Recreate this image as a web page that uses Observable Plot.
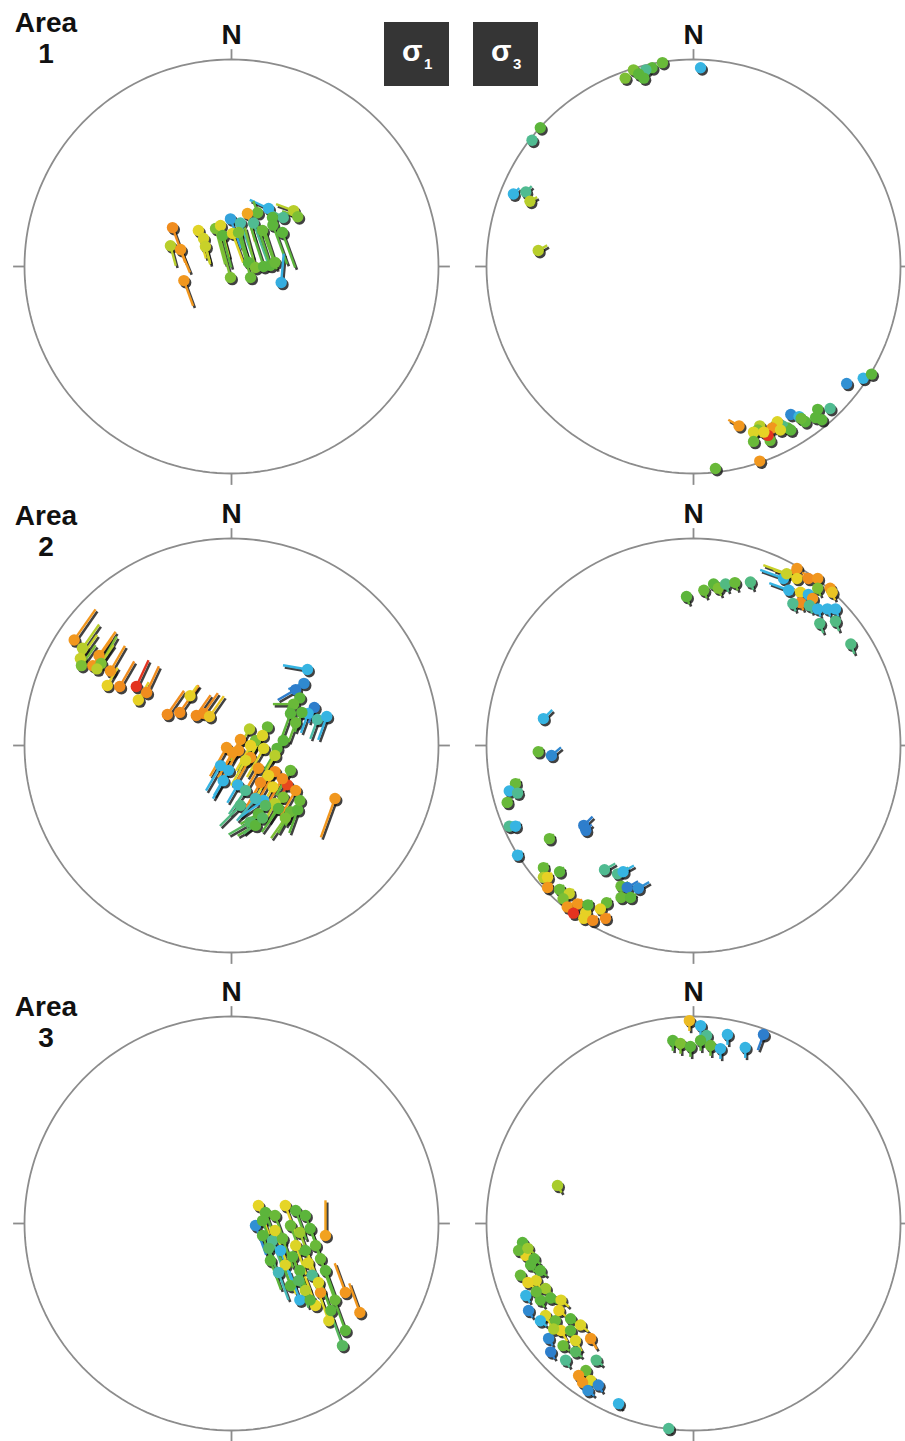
<!DOCTYPE html>
<html><head><meta charset="utf-8">
<script src="https://cdn.jsdelivr.net/npm/d3@7"></script>
<script src="https://cdn.jsdelivr.net/npm/@observablehq/plot@0.6"></script>
<style>
body{margin:0;background:#fff;font-family:"Liberation Sans",Arial,Helvetica,sans-serif;}
#fig{position:relative;width:905px;height:1441px;overflow:hidden;background:#fff;}
.panel{position:absolute;width:450px;}
.panel svg{max-width:none !important;}
.area{position:absolute;left:6px;width:80px;text-align:center;font-weight:bold;font-size:28px;line-height:31px;color:#111;}
.sig{position:absolute;top:22px;width:65px;height:64px;background:#353535;color:#fff;font-weight:bold;}
.sig .s{position:absolute;left:18px;top:14px;font-size:30px;line-height:30px;}
.sig .n{position:absolute;left:40px;top:34px;font-size:15px;line-height:15px;}
</style></head><body>
<svg width="0" height="0" style="position:absolute"><defs>
<filter id="pinshadow" x="-20%" y="-20%" width="140%" height="140%"><feGaussianBlur stdDeviation="1.1"/></filter>
</defs></svg>
<div id="fig"></div>
<script>
// ---- labels ----
const areaLabels = ["1", "2", "3"];
const sigmaLabels = ["1", "3"];
const northLabel = "N";

// colour ramp (value 0 = blue ... 1 = red)
const rampStops = [0, 0.2, 0.35, 0.5, 0.62, 0.74, 0.86, 0.93, 1];
const rampColors = ["#2b6cc4", "#36b4e2", "#4dbca6", "#5cb53b", "#a9cc2c", "#e6d526", "#f2a21f", "#ef7b1d", "#e3331f"];

// pins: [x, y, tail azimuth (deg), tail length, colour value]; x,y in % of net radius
const a1s1 = [
 [-28.5,18.8,160,18,0.9],[-29.5,10,165,10,0.65],[-24.6,8.2,158,12,0.88],[-23,-6.8,160,13,0.88],
 [-16,17.4,165,14,0.73],[-13.5,13.5,165,12,0.7],[-12.6,9.7,165,9,0.68],
 [17.9,28,295,10,0.2],[30,27,290,9,0.65],[32,24,290,8,0.55],[25,23.7,300,6,0.38],[19.8,23.7,330,6,0.5],
 [12.6,26,340,6,0.52],[7.7,25.6,165,14,0.85],[-0.5,23,160,15,0.15],[4.3,21,160,18,0.35],[10.6,21,160,20,0.38],
 [20,20,160,20,0.5],[-7.7,18.4,165,18,0.55],[-5.3,19.8,165,16,0.72],[-4.3,15,165,16,0.5],[0.5,16,160,15,0.72],
 [3.4,16.4,160,18,0.55],[15,17.4,160,20,0.52],[24.6,16.4,160,18,0.5],
 [-0.5,-5.3,345,22,0.55],[9.2,-5.3,345,22,0.52],[8.2,1.9,345,20,0.5],[11.6,-0.5,345,20,0.55],[15.5,0,342,20,0.5],
 [18.8,0.5,342,20,0.5],[21,2,342,18,0.52],[24,-7.7,5,14,0.18]
];
const a1s3 = [
 [-15,98.5,45,2,0.52],[-20,96,45,2,0.5],[-23,95,45,2,0.38],[-29,95,45,2,0.55],[-26.5,93,45,2,0.5],[-24,91,45,2,0.5],
 [-33,91,45,2,0.55],[3.4,96,45,2,0.2],[-74,67,45,2,0.5],[-78,61,45,2,0.38],[-87,35,45,4,0.2],[-81,36,45,4,0.38],
 [-79,31.5,60,4,0.65],[-75,7.7,60,5,0.65],
 [74,-56.5,45,2,0.1],[82,-54,45,2,0.2],[86,-52,45,2,0.5],[66,-68.6,45,2,0.38],[60,-69,45,2,0.5],[59,-73,45,2,0.5],
 [62,-74,45,2,0.5],[47,-71.5,45,2,0.08],[51,-72.5,45,2,0.22],[54,-75,45,2,0.5],[52,-73.4,45,2,0.52],[45.5,-78,45,2,0.5],
 [43,-77,45,2,0.4],[39.6,-77,45,2,0.52],[40.5,-75,45,2,0.72],[38,-78,45,2,0.88],[32,-77,45,2,0.65],[31,-79,45,2,0.55],
 [29,-80,45,2,0.72],[22,-77,300,6,0.88],[29,-84.5,45,2,0.52],[37,-84,45,2,0.52],[36,-81.6,45,2,1],[34,-80,45,2,0.75],
 [32,-94,45,2,0.88],[10.6,-97.6,45,2,0.52],[47,-79,45,2,0.5],[42,-79,45,2,0.72]
];
const a2s1 = [
 [-76,51,35,18,0.88],[-72,47,35,14,0.65],[-73,42,35,14,0.68],[-72.5,38.6,35,12,0.55],[-67,38.6,35,16,0.88],
 [-64,43.5,35,14,0.88],[-63,39.6,30,15,0.55],[-65,37,35,14,0.65],[-58.5,36,30,14,0.88],[-60,29,30,10,0.75],
 [-54,28.5,30,14,0.9],[-46,28.5,25,14,1],[-41,25.6,25,14,0.9],[-45,22,30,10,0.75],[-31,15,35,14,0.9],
 [-25,16,35,16,0.9],[-20,24,35,6,0.75],[-17,14.5,35,12,0.9],[-13.5,15.5,35,12,0.9],[-10.6,14,35,12,0.78],
 [36.7,36.7,280,12,0.2],[35,30,250,8,0.08],[31,27,240,10,0.05],[33,23,230,8,0.5],[30,20,270,10,0.52],
 [40,18.4,200,8,0.05],[37,15.5,200,10,0.2],[41.5,12.6,200,10,0.35],[46,14,200,12,0.2],[34,16,200,10,0.5],
 [28.5,15.5,200,12,0.5],[31,11,200,10,0.52],[25,2.4,210,12,0.5],[17.4,9,210,18,0.52],[8.7,8,210,18,0.65],
 [15.5,-1.4,210,16,0.72],[22,-1.4,210,12,0.5],[11.6,2.4,210,16,0.55],[-2.4,-1,210,16,0.88],[4.3,2.9,210,16,0.88],
 [3.4,-2.4,210,14,0.88],[-5.3,-9.7,210,14,0.2],[-4,-17,210,10,0.2],[3,-19,210,10,0.2],[9.2,-5.8,210,16,0.88],
 [14,-17.9,210,14,0.9],[21,-12.6,210,14,0.9],[20,-20,210,12,0.75],[27,-19,210,14,0.98],[15.5,-26.6,235,14,0.2],
 [25,-25,210,14,0.55],[28.5,-32,210,12,0.52],[32,-31,200,12,0.5],[9,-37,240,12,0.45],[11.6,-38.6,240,10,0.5],
 [13,-33,240,10,0.5],[50,-25.6,200,20,0.88],[21,-28,210,10,0.65],
 [0.5,-3.4,210,14,0.88],[6.8,-7.2,210,14,0.72],[13,-11,210,14,0.88],[17.9,-14.5,210,14,0.75],[24.6,-16,210,14,0.9],
 [6.8,-21.7,215,14,0.38],[11.6,-25.6,220,14,0.3],[16.4,-29,220,14,0.45],[22.7,-30.4,215,14,0.5],[4.3,-29,225,14,0.4],
 [15,-35,230,12,0.45],[26,-35,215,12,0.55],[33,-26.6,210,14,0.52],[-1.4,-12,210,14,0.2],[9.2,0,210,14,0.75],
 [15,4.8,210,14,0.72],[21,-4.8,210,14,0.65],[28.5,-12,210,14,0.52],[31,-21.7,210,14,0.88]
];
const a2s3 = [
 [-3.4,72,160,4,0.5],[5,75,160,4,0.52],[9.7,78,160,4,0.5],[12,76,160,4,0.55],[15.5,78,160,4,0.4],[20,78.7,160,4,0.52],
 [27.5,79,160,4,0.4],
 [50,85.5,250,8,0.88],[50,80.7,290,12,0.75],[43.5,80.7,290,12,0.2],[45,83,290,12,0.68],[55.5,80.7,290,10,0.9],
 [60,80.7,290,8,0.88],[46,75,290,10,0.2],[51.7,74,290,8,0.75],[55.5,73,160,4,0.2],[60,76,160,4,0.55],
 [66,76,160,4,0.88],[67,74,160,4,0.78],[57.5,71,160,4,0.88],[51.7,69,160,4,0.9],[48,68.6,160,4,0.38],
 [56,67.6,160,4,0.38],[60,66,160,4,0.2],[64.7,66,160,4,0.2],[68.6,66,160,4,0.2],[61,59,160,5,0.4],
 [68.6,60,160,5,0.4],[76,49,160,5,0.4],
 [-72.5,13,45,6,0.2],[-75,-3,45,3,0.52],[-68.6,-4.8,50,6,0.08],[-86,-18.4,45,3,0.52],[-89,-22,45,3,0.2],
 [-85,-23,45,3,0.38],[-90,-27.5,45,3,0.52],[-89,-39,45,3,0.38],[-86,-39,45,3,0.2],[-53,-38.6,45,6,0.05],
 [-52,-41,45,4,0.05],[-69.6,-45,45,3,0.52],[-85,-53,45,3,0.2],[-72.5,-59,45,3,0.52],[-64.7,-61,45,3,0.5],
 [-72.5,-63.7,45,3,0.65],[-70.5,-63.7,45,3,0.75],[-70.5,-68.6,45,3,0.88],[-64.7,-69.6,45,3,0.52],[-60,-71.5,45,3,0.68],
 [-63,-74,45,3,0.55],[-61,-78,45,3,0.88],[-56,-76.5,45,3,0.88],[-58,-81,45,3,1],[-52,-80.7,45,3,0.75],
 [-53,-83.5,45,3,0.75],[-48.7,-84.5,45,3,0.9],[-42.5,-83.5,45,3,0.9],[-42,-76,45,3,0.52],[-45,-79,45,3,0.75],
 [-51,-77,45,3,0.5],[-43,-60,60,6,0.38],[-36.7,-62,60,6,0.38],[-34,-61,60,6,0.2],[-35,-68,60,4,0.52],
 [-32,-68.6,60,6,0.05],[-26.6,-69,60,6,0.1],[-35,-73.4,60,3,0.52],[-30.4,-73.4,60,3,0.5]
];
const a3s1 = [
 [13,8.7,160,15,0.74],[16.4,5.3,160,15,0.5],[21,3.9,160,15,0.52],[26,8.7,160,15,0.74],[31,6.3,160,15,0.5],
 [35.7,3.9,160,15,0.5],[11.6,-1,160,15,0.1],[15,-5.8,160,15,0.5],[19.8,-8.2,160,15,0.38],[24.6,-7.2,160,15,0.52],
 [31,-10.6,160,15,0.72],[35.7,-13,160,15,0.5],[40.6,-10.6,160,15,0.52],[18.8,-17.9,160,15,0.5],[26,-20,160,15,0.72],
 [33,-22.7,160,15,0.5],[39,-25,160,15,0.38],[28.5,-30,340,15,0.5],[35.7,-32.4,340,15,0.65],[43,-33.3,340,15,0.88],
 [45.4,-5.8,0,17,0.86],[40.6,-39.6,340,15,0.74],[50,-37,340,15,0.52],[55,-33.3,340,15,0.88],[47,-47,340,15,0.72],
 [62,-43,340,15,0.88],[53.6,-59,340,15,0.45],[55,-51.7,340,15,0.5],[33,-37,340,15,0.2],[23.7,-13,160,15,0.2],
 [15,1.4,160,15,0.5],[28.5,-1,160,15,0.52],[33,-4.3,160,15,0.6],[38,-2.4,160,15,0.5],[18,-12,160,15,0.45],
 [29.5,-16,160,15,0.5],[37,-19,160,15,0.72],[43,-17,160,15,0.52],[22.7,-23.7,160,14,0.3],[32.4,-27.5,160,14,0.45],
 [42,-28.5,340,14,0.72],[45.4,-22.7,160,14,0.5],[38,-37,340,14,0.5],[48,-42,340,14,0.5],[21,-3.4,160,15,0.72]
];
const a3s3 = [
 [-65.7,18.4,150,4,0.62],[-82.6,-9.2,150,4,0.5],[-81,-15.5,150,4,0.75],[-78.7,-20,150,4,0.5],[-83.6,-25,150,4,0.52],
 [-76,-27.5,150,4,0.72],[-81,-34.8,150,4,0.2],[-74,-37,150,4,0.5],[-79.7,-42,150,4,0.08],[-71.5,-44.4,150,6,0.72],
 [-66.7,-46.9,150,6,0.52],[-64,-51.7,150,6,0.75],[-59.4,-51.7,150,6,0.5],[-70,-55.5,150,4,0.08],[-57,-56.5,150,6,0.72],
 [-49.7,-55.5,150,6,0.88],[-61.8,-66,150,4,0.38],[-52,-71,150,4,0.52],[-49.7,-75.8,150,4,0.72],[-46,-78,150,4,0.08],
 [-53.6,-76.8,150,4,0.88],[-36.2,-87,150,3,0.2],[-12,-99,150,2,0.38],[-69,-62,150,4,0.05],
 [-84.5,-13,130,4,0.52],[-80,-12,130,4,0.6],[-77,-17,130,4,0.5],[-74,-22.7,130,4,0.5],[-80,-28.5,130,4,0.75],
 [-71.5,-31.4,130,4,0.6],[-76,-33,130,4,0.52],[-69,-36,130,4,0.5],[-65,-42,130,5,0.75],[-74,-47,130,4,0.2],
 [-59.4,-46,130,5,0.5],[-67.6,-51,130,4,0.62],[-54.6,-49,130,5,0.72],[-63,-59,130,4,0.52],[-57,-62,130,4,0.45],
 [-47,-66,130,4,0.4],[-55.5,-73.4,130,4,0.88],[-51,-80.7,130,4,0.1],[-64,-37,130,5,0.72],
 [-2,98,180,5,0.8],[3.4,95.6,180,5,0.2],[6.3,90.8,180,5,0.38],[16.4,91.3,180,5,0.2],[33.8,91.3,200,8,0.05],
 [-10,88.4,180,5,0.5],[-6.3,87,180,5,0.55],[-1.5,85.5,180,5,0.5],[8.2,86,180,5,0.52],[13,84.5,180,5,0.2],
 [25,85,180,5,0.2],[3.4,88.4,180,5,0.5]
];

const panels = [
  {row: 0, col: 0, data: a1s1}, {row: 0, col: 1, data: a1s3},
  {row: 1, col: 0, data: a2s1}, {row: 1, col: 1, data: a2s3},
  {row: 2, col: 0, data: a3s1}, {row: 2, col: 1, data: a3s3}
];

// ---- layout (pixels) ----
const R = 207;                 // net radius in px
const colX = [231, 693];       // net centres
const rowY = [266, 745, 1223];
const padX = 225, padTop = 247, padBot = 222;
const k = 100 / R;             // data units per pixel

const ramp = d3.scaleLinear().domain(rampStops).range(rampColors).clamp(true);
const rad = Math.PI / 180;
const circle = d3.range(0, 361, 2);
const cardinals = [0, 90, 180, 270];

const fig = document.getElementById("fig");

for (const p of panels) {
  const pins = p.data.map(([x, y, az, len, c]) => ({
    x, y, x2: x + len * Math.sin(az * rad), y2: y + len * Math.cos(az * rad), col: ramp(c)
  }));
  const plot = Plot.plot({
    width: 2 * padX, height: padTop + padBot,
    margin: 0, marginTop: 0, marginBottom: 0, marginLeft: 0, marginRight: 0,
    x: {domain: [-padX * k, padX * k], axis: null},
    y: {domain: [-padBot * k, padTop * k], axis: null},
    color: {type: "identity"},
    style: {background: "transparent", overflow: "visible", maxWidth: "none"},
    marks: [
      Plot.line(circle, {x: a => 100 * Math.sin(a * rad), y: a => 100 * Math.cos(a * rad), stroke: "#8c8c8c", strokeWidth: 1.8}),
      Plot.link(cardinals, {
        x1: a => 100 * Math.sin(a * rad), y1: a => 100 * Math.cos(a * rad),
        x2: a => (a === 0 ? 105 : 105.5) * Math.sin(a * rad), y2: a => (a === 0 ? 105 : 105.5) * Math.cos(a * rad),
        stroke: "#8c8c8c", strokeWidth: 1.8
      }),
      Plot.text([northLabel], {x: 0, y: 112, text: d => d, fontSize: 28, fontWeight: "bold", fill: "#111", fontFamily: "Liberation Sans, Arial, sans-serif"}),
      Plot.link(pins, {x1: "x", y1: "y", x2: "x2", y2: "y2", stroke: "#111", strokeOpacity: 0.8, strokeWidth: 2.6, dx: 1.8, dy: 2.2, ariaLabel: "shadow"}),
      Plot.dot(pins, {x: "x", y: "y", r: 5.7, fill: "#111", fillOpacity: 0.8, dx: 1.8, dy: 2.2, ariaLabel: "shadow"}),
      Plot.link(pins, {x1: "x", y1: "y", x2: "x2", y2: "y2", stroke: "col", strokeWidth: 2.4}),
      Plot.dot(pins, {x: "x", y: "y", r: 5.7, fill: "col"})
    ]
  });
  plot.querySelectorAll('g[aria-label="shadow"]').forEach(g => g.setAttribute("filter", "url(#pinshadow)"));
  plot.style.maxWidth = "none";
  const wrap = document.createElement("div");
  wrap.className = "panel";
  wrap.style.left = (colX[p.col] - padX) + "px";
  wrap.style.top = (rowY[p.row] - padTop) + "px";
  wrap.appendChild(plot);
  fig.appendChild(wrap);
}

// Area labels
const areaTop = [7, 500, 991];
areaLabels.forEach((a, i) => {
  const d = document.createElement("div");
  d.className = "area";
  d.style.top = areaTop[i] + "px";
  d.innerHTML = "Area<br>" + a;
  fig.appendChild(d);
});
// sigma boxes
const sigLeft = [384, 473];
sigmaLabels.forEach((s, i) => {
  const d = document.createElement("div");
  d.className = "sig";
  d.style.left = sigLeft[i] + "px";
  d.innerHTML = '<span class="s">σ</span><span class="n">' + s + '</span>';
  fig.appendChild(d);
});
</script>
</body></html>
